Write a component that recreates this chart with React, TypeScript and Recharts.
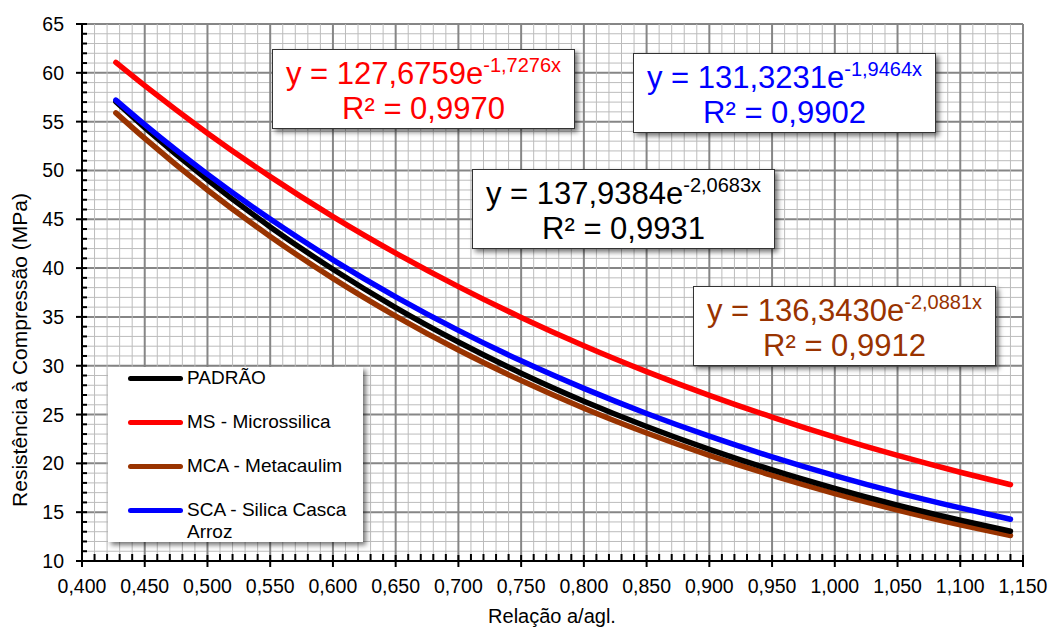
import { LineChart, Line, XAxis, YAxis, CartesianGrid, Legend } from "recharts";

const FONT = '"Liberation Sans", Arial, sans-serif';

// relação a/agl.
const xValues = [0.427, 0.45, 0.5, 0.55, 0.6, 0.65, 0.7, 0.75, 0.8, 0.85, 0.9, 0.95, 1.0, 1.05, 1.1, 1.14];

// resistência à compressão (MPa)
const padrao = [57.03, 54.38, 49.04, 44.22, 39.88, 35.96, 32.43, 29.24, 26.37, 23.78, 21.44, 19.33, 17.44, 15.72, 14.18, 13.05];
const ms = [61.06, 58.68, 53.82, 49.37, 45.28, 41.54, 38.1, 34.95, 32.05, 29.4, 26.97, 24.74, 22.69, 20.81, 19.09, 17.82];
const mca = [55.9, 53.28, 48.0, 43.24, 38.95, 35.09, 31.61, 28.48, 25.65, 23.11, 20.82, 18.76, 16.9, 15.22, 13.71, 12.61];
const sca = [57.2, 54.69, 49.62, 45.02, 40.85, 37.06, 33.62, 30.5, 27.68, 25.11, 22.78, 20.67, 18.75, 17.01, 15.44, 14.28];

const seriesNames = ["PADRÃO", "MS - Microssilica", "MCA - Metacaulim", "SCA - Silica Casca Arroz"];
const seriesColors = ["#000000", "#ff0000", "#993300", "#0000ff"];

const equations = [
  { a: "127,6759", b: "-1,7276x", r2: "0,9970", color: "#ff0000" },
  { a: "131,3231", b: "-1,9464x", r2: "0,9902", color: "#0000ff" },
  { a: "137,9384", b: "-2,0683x", r2: "0,9931", color: "#000000" },
  { a: "136,3430", b: "-2,0881x", r2: "0,9912", color: "#993300" },
];
const eqBoxes = [
  { left: 272, top: 49 },
  { left: 633, top: 53 },
  { left: 472, top: 169 },
  { left: 693, top: 286 },
];

// every 0.01 on x, every 1 on y; majors every 5th
const xTicks = Array.from({ length: 76 }, (_, i) => (40 + i) / 100);
const yTicks = Array.from({ length: 56 }, (_, i) => 10 + i);

const data = xValues.map((x, i) => ({ x, padrao: padrao[i], ms: ms[i], mca: mca[i], sca: sca[i] }));

const gridLine = (props: any) => {
  const major = props.index % 5 === 0;
  return (
    <line
      key={`g-${props.x1}-${props.y1}-${props.index}`}
      x1={props.x1}
      y1={props.y1}
      x2={props.x2}
      y2={props.y2}
      stroke={major ? "#868686" : "#bcbcbc"}
      strokeWidth={major ? 2 : 1}
    />
  );
};

function XTick({ x, y, payload }: any) {
  const major = Math.round(payload.value * 100) % 5 === 0;
  return (
    <g>
      <line x1={x} x2={x} y1={major ? y - 6 : y - 7} y2={major ? y + 6 : y} stroke="#000" strokeWidth={2} />
      {major && (
        <text x={x} y={y + 32} textAnchor="middle" fontSize={19.5} fontFamily={FONT} fill="#000">
          {payload.value.toFixed(3).replace(".", ",")}
        </text>
      )}
    </g>
  );
}

function YTick({ x, y, payload }: any) {
  const major = payload.value % 5 === 0;
  return (
    <g>
      <line x1={major ? x - 6 : x} x2={x + 5} y1={y} y2={y} stroke="#000" strokeWidth={2} />
      {major && (
        <text x={x - 18} y={y + 7} textAnchor="end" fontSize={19.5} fontFamily={FONT} fill="#000">
          {payload.value}
        </text>
      )}
    </g>
  );
}

function LegendBox({ payload }: any) {
  const items = seriesNames.map((n) => (payload || []).find((p: any) => p.value === n)).filter(Boolean);
  return (
    <div
      style={{
        width: 255,
        height: 175,
        background: "#fff",
        boxShadow: "3px 3px 5px rgba(0,0,0,0.55)",
        fontFamily: FONT,
        fontSize: 19,
        color: "#000",
        boxSizing: "border-box",
      }}
    >
      {items.map((p: any) => (
        <div key={p.value} style={{ display: "flex", alignItems: "flex-start", height: 44 }}>
          <div style={{ width: 79, height: 22, display: "flex", alignItems: "center", paddingLeft: 20, boxSizing: "border-box" }}>
            <div style={{ width: 55, height: 5, borderRadius: 3, background: p.color }} />
          </div>
          <div style={{ width: 172, lineHeight: "22px", textAlign: "left" }}>{p.value}</div>
        </div>
      ))}
    </div>
  );
}

export default function App() {
  return (
    <div style={{ position: "absolute", left: 0, top: 0, width: 1052, height: 628, background: "#fff", fontFamily: FONT }}>
      <LineChart width={1052} height={628} data={data} margin={{ top: 24, right: 29, bottom: 37, left: 22 }}>
        <CartesianGrid vertical={gridLine} horizontal={gridLine} />
        <XAxis
          dataKey="x"
          type="number"
          domain={[0.4, 1.15]}
          ticks={xTicks}
          interval={0}
          tickSize={0}
          tickMargin={0}
          tickLine={false}
          tick={<XTick />}
          height={30}
          axisLine={{ stroke: "#000", strokeWidth: 2 }}
          allowDataOverflow
          label={{
            content: () => (
              <text x={552} y={623} textAnchor="middle" fontSize={20} fontFamily={FONT} fill="#000">
                Relação a/agl.
              </text>
            ),
          }}
        />
        <YAxis
          type="number"
          domain={[10, 65]}
          ticks={yTicks}
          interval={0}
          tickSize={0}
          tickMargin={0}
          tickLine={false}
          tick={<YTick />}
          width={60}
          axisLine={{ stroke: "#000", strokeWidth: 2 }}
          allowDataOverflow
          label={{
            content: () => (
              <text transform="translate(27,350) rotate(-90)" textAnchor="middle" fontSize={21} fontFamily={FONT} fill="#000">
                Resistência à Compressão (MPa)
              </text>
            ),
          }}
        />
        <Line dataKey="mca" name={seriesNames[2]} type="monotone" stroke={seriesColors[2]} strokeWidth={5.5} strokeLinecap="round" dot={false} isAnimationActive={false} />
        <Line dataKey="padrao" name={seriesNames[0]} type="monotone" stroke={seriesColors[0]} strokeWidth={5.5} strokeLinecap="round" dot={false} isAnimationActive={false} />
        <Line dataKey="ms" name={seriesNames[1]} type="monotone" stroke={seriesColors[1]} strokeWidth={5.5} strokeLinecap="round" dot={false} isAnimationActive={false} />
        <Line dataKey="sca" name={seriesNames[3]} type="monotone" stroke={seriesColors[3]} strokeWidth={5.5} strokeLinecap="round" dot={false} isAnimationActive={false} />
        <Legend
          layout="vertical"
          align="center"
          verticalAlign="middle"
          content={<LegendBox />}
          wrapperStyle={{ left: 108, top: 367, width: 255, height: 175 }}
        />
      </LineChart>
      {equations.map((eq, i) => (
        <div
          key={eq.a}
          style={{
            position: "absolute",
            left: eqBoxes[i].left,
            top: eqBoxes[i].top,
            width: 303,
            height: 80,
            boxSizing: "border-box",
            background: "#fff",
            border: "1px solid #333",
            boxShadow: "3px 3px 5px rgba(0,0,0,0.55)",
            color: eq.color,
            fontSize: 31,
            lineHeight: "32px",
            textAlign: "center",
            paddingTop: 8,
            whiteSpace: "nowrap",
          }}
        >
          <div>
            y = {eq.a}e<span style={{ fontSize: 20, position: "relative", top: -12 }}>{eq.b}</span>
          </div>
          <div>R² = {eq.r2}</div>
        </div>
      ))}
    </div>
  );
}
